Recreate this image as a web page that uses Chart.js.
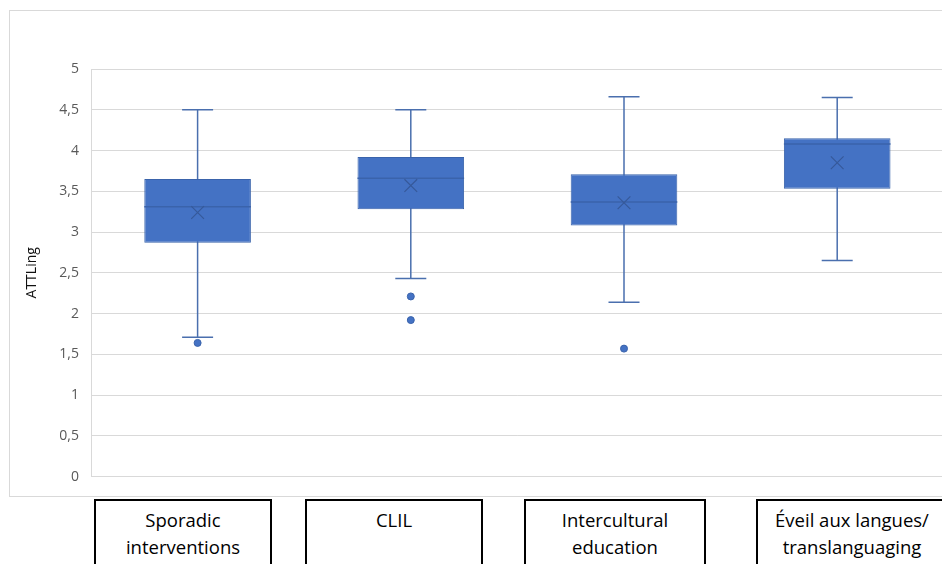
<!DOCTYPE html>
<html>
<head>
<meta charset="utf-8">
<script src="https://cdn.jsdelivr.net/npm/chart.js@4.4.0/dist/chart.umd.min.js"></script>
<style>
  html, body { margin: 0; padding: 0; background: #fff; width: 942px; height: 564px; overflow: hidden; }
  body { position: relative; }
  #frame { position: absolute; left: 9px; top: 10px; width: 940px; height: 487px; border: 1px solid #d9d9d9; box-sizing: border-box; }
  #wrap { position: absolute; left: 0; top: 0; width: 954px; height: 497px; }
  .cat { position: absolute; top: 499px; height: 80px; border: 2px solid #000; box-sizing: border-box;
         font-family: "Open Sans", "Noto Sans", sans-serif; font-size: 18.5px; line-height: 27px; color: #000;
         text-align: center; padding-top: 5px; background: #fff; white-space: nowrap; }
</style>
</head>
<body>
<div id="frame"></div>
<div id="wrap"><canvas id="c"></canvas></div>
<div id="cats"></div>
<script>
const categories = ['Sporadic interventions', 'CLIL', 'Intercultural education', 'Éveil aux langues/ translanguaging'];
const categoryLines = [['Sporadic', 'interventions'], ['CLIL'], ['Intercultural', 'education'], ['Éveil aux langues/', 'translanguaging']];
const whiskerMin = [1.71, 2.43, 2.14, 2.65];
const q1 = [2.87, 3.28, 3.08, 3.53];
const median = [3.31, 3.66, 3.37, 4.08];
const q3 = [3.65, 3.92, 3.71, 4.15];
const whiskerMax = [4.5, 4.5, 4.66, 4.65];
const mean = [3.24, 3.57, 3.36, 3.85];
const outliers = [[1.64], [2.21, 1.92], [1.57], []];
const yTickValues = [0, 0.5, 1, 1.5, 2, 2.5, 3, 3.5, 4, 4.5, 5];
const yTitle = 'ATTLing';

// label boxes (separate text boxes below the chart)
const catBoxLayout = [[94, 178], [305, 178], [524, 182], [756, 192]];
const catsDiv = document.getElementById('cats');
categoryLines.forEach((lines, i) => {
  const d = document.createElement('div');
  d.className = 'cat';
  d.style.left = catBoxLayout[i][0] + 'px';
  d.style.width = catBoxLayout[i][1] + 'px';
  d.innerHTML = lines.map(l => '<div>' + l + '</div>').join('');
  catsDiv.appendChild(d);
});

const BOX_FILL = '#4472C4';
const BOX_EDGE = '#3a63ab';
const LINE = '#4a6fae';

const boxPlugin = {
  id: 'boxParts',
  beforeDatasetsDraw(chart) {
    const ctx = chart.ctx, x = chart.scales.x, y = chart.scales.y;
    ctx.save();
    ctx.strokeStyle = LINE;
    ctx.lineWidth = 1.5;
    categories.forEach((c, i) => {
      const cx = x.getPixelForValue(i);
      const yMin = y.getPixelForValue(whiskerMin[i]);
      const yMax = y.getPixelForValue(whiskerMax[i]);
      ctx.beginPath();
      ctx.moveTo(cx, yMin); ctx.lineTo(cx, yMax);
      ctx.moveTo(cx - 15.5, yMin); ctx.lineTo(cx + 15.5, yMin);
      ctx.moveTo(cx - 15.5, yMax); ctx.lineTo(cx + 15.5, yMax);
      ctx.stroke();
    });
    ctx.restore();
  },
  afterDatasetDraw(chart, args) {
    if (args.index !== 0) return;
    const ctx = chart.ctx, y = chart.scales.y;
    const meta = chart.getDatasetMeta(0);
    ctx.save();
    ctx.strokeStyle = BOX_EDGE;
    ctx.lineWidth = 1.5;
    meta.data.forEach((bar, i) => {
      const half = bar.width / 2;
      const ym = y.getPixelForValue(median[i]);
      ctx.beginPath();
      ctx.moveTo(bar.x - half, ym); ctx.lineTo(bar.x + half, ym);
      ctx.stroke();
    });
    ctx.restore();
  }
};

const outlierPoints = [];
outliers.forEach((arr, i) => arr.forEach(v => outlierPoints.push({ x: categories[i], y: v })));

new Chart(document.getElementById('c'), {
  type: 'bar',
  data: {
    labels: categories,
    datasets: [
      {
        label: 'Box',
        data: categories.map((c, i) => [q1[i], q3[i]]),
        backgroundColor: BOX_FILL,
        borderColor: BOX_EDGE,
        borderWidth: 1,
        borderSkipped: false,
        barPercentage: 0.5,
        categoryPercentage: 1.0,
        order: 2
      },
      {
        type: 'line',
        label: 'Mean',
        data: categories.map((c, i) => ({ x: c, y: mean[i] })),
        showLine: false,
        pointStyle: 'crossRot',
        pointRadius: 9,
        pointBorderColor: '#36599a',
        pointBorderWidth: 1.2,
        order: 1
      },
      {
        type: 'line',
        label: 'Outliers',
        data: outlierPoints,
        showLine: false,
        pointStyle: 'circle',
        pointRadius: 3.5,
        pointBackgroundColor: BOX_FILL,
        pointBorderColor: '#3a63ab',
        pointBorderWidth: 1,
        order: 0
      }
    ]
  },
  options: {
    responsive: true,
    maintainAspectRatio: false,
    animation: false,
    layout: { padding: { left: 20, top: 69, right: 0, bottom: 20 } },
    plugins: { legend: { display: false }, tooltip: { enabled: false } },
    scales: {
      x: {
        type: 'category',
        grid: { display: false, drawTicks: false },
        border: { display: true, color: '#d9d9d9', width: 1 },
        ticks: { display: false }
      },
      y: {
        min: 0, max: 5,
        afterBuildTicks(scale) { scale.ticks = yTickValues.map(v => ({ value: v })); },
        afterFit(scale) { scale.width = 71; },
        grid: { color: '#d9d9d9', lineWidth: 1, drawTicks: false },
        border: { display: true, color: '#d9d9d9', width: 1 },
        ticks: {
          padding: 12,
          color: '#595959',
          font: { family: 'Open Sans', size: 14 },
          callback: v => String(v).replace('.', ',')
        },
        title: {
          display: true,
          text: yTitle,
          color: '#111',
          font: { family: 'Open Sans', size: 14 },
          padding: { top: 4, bottom: 0 }
        }
      }
    }
  },
  plugins: [boxPlugin]
});
</script>
</body>
</html>
